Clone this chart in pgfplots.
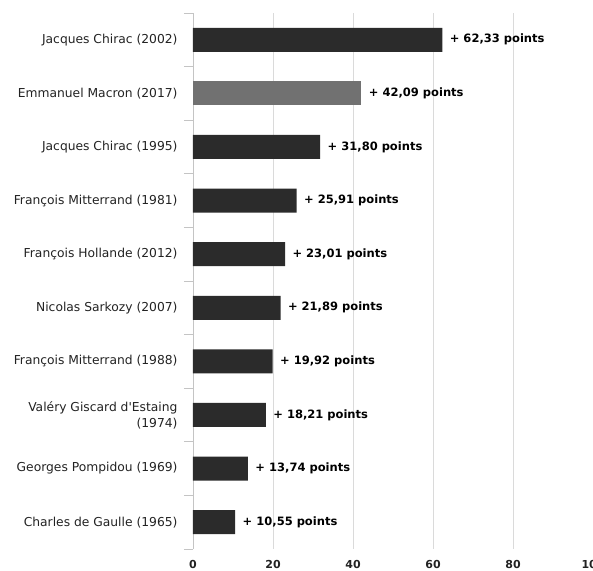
\documentclass[border=0pt]{standalone}
\usepackage{pgfplots}
\pgfplotsset{compat=1.18}
\usepackage{fontspec}
\setmainfont{DejaVu Sans}
\definecolor{bardark}{HTML}{2B2B2B}
\definecolor{barmid}{HTML}{717171}
\definecolor{gridc}{HTML}{DADADA}
\definecolor{axc}{HTML}{C4C4C4}
\definecolor{txt}{HTML}{222222}
\begin{document}
\begin{tikzpicture}
\begin{axis}[
  scale only axis,
  width=400pt, height=536pt,
  xbar, bar width=24pt, bar shift=0pt,
  xmin=0, xmax=100,
  ymin=-0.5, ymax=9.5,
  axis y line*=left, axis x line*=bottom,
  x axis line style={draw=none},
  y axis line style={draw=axc, line width=0.8pt},
  xtick={0,20,40,60,80,100},
  xmajorgrids, grid style={draw=gridc, line width=0.8pt},
  ytick={0,...,9},
  yticklabels={Charles de Gaulle (1965),Georges Pompidou (1969),{Valéry Giscard d\textquotesingle Estaing\\(1974)},François Mitterrand (1988),Nicolas Sarkozy (2007),François Hollande (2012),François Mitterrand (1981),Jacques Chirac (1995),Emmanuel Macron (2017),Jacques Chirac (2002)},
  minor ytick={-0.5,0.5,...,9.5},
  major tick length=0pt,
  minor tick length=9pt,
  tick align=outside,
  minor tick style={draw=axc, line width=0.8pt},
  yticklabel style={font=\fontsize{12.3}{16}\selectfont, text=txt, align=right, xshift=-12pt},
  xticklabel style={font=\fontsize{11}{13}\bfseries, text=txt, yshift=-8pt},
  /pgf/number format/assume math mode=true,
  point meta=explicit symbolic,
  nodes near coords={+ \pgfplotspointmeta\ points},
  nodes near coords style={font=\fontsize{11.5}{13}\bfseries, text=black, anchor=west, xshift=4pt},
  clip=false,
]
\addplot[fill=bardark, draw=none] table[meta=lab] {
x y lab
10.55 0 10,55
13.74 1 13,74
18.21 2 18,21
19.92 3 19,92
21.89 4 21,89
23.01 5 23,01
25.91 6 25,91
31.80 7 31,80
62.33 9 62,33
};
\addplot[fill=barmid, draw=none] table[meta=lab] {
x y lab
42.09 8 42,09
};
\end{axis}
\path (current axis.south west) ++(-193pt,-22pt) coordinate (bbA);
\path (current axis.north east) ++(0pt,13pt) coordinate (bbB);
\pgfresetboundingbox
\useasboundingbox (bbA) rectangle (bbB);
\end{tikzpicture}
\end{document}
